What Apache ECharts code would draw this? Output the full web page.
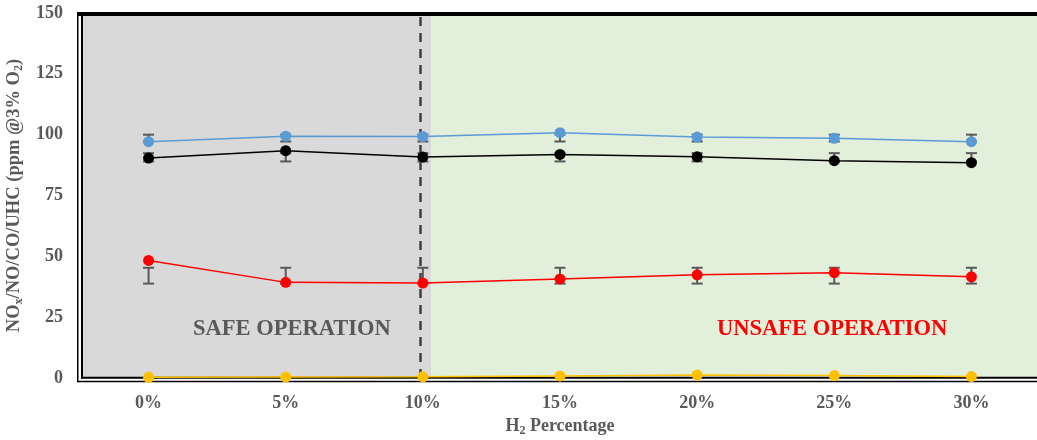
<!DOCTYPE html>
<html>
<head>
<meta charset="utf-8">
<script src="https://cdn.jsdelivr.net/npm/echarts@6/dist/echarts.min.js"></script>
<style>html,body{margin:0;padding:0;background:#fff}#c{width:1037px;height:440px}</style>
</head>
<body>
<div id="c"></div>
<script>
var categories = ['0%', '5%', '10%', '15%', '20%', '25%', '30%'];
var yTicks = [0, 25, 50, 75, 100, 125, 150];
var seriesNOx = [97.1, 99.4, 99.2, 100.8, 99.0, 98.5, 97.1];
var seriesNO  = [90.4, 93.4, 90.8, 91.9, 90.9, 89.3, 88.5];
var seriesCO  = [48.3, 39.3, 39.0, 40.7, 42.4, 43.3, 41.6];
var seriesUHC = [0.3, 0.4, 0.5, 0.8, 1.2, 1.0, 0.6];
var errNOxLow = [97.2, 97.2, 97.2, 97.2, 97.2, 97.2, 97.2];
var errNOxHigh = [100.0, 100.0, 100.0, 100.0, 100.0, 100.0, 100.0];
var errNOLow = [89.0, 89.0, 89.0, 89.0, 89.0, 89.0, 89.0];
var errNOHigh = [92.4, 92.4, 92.4, 92.4, 92.4, 92.4, 92.4];
var errCOLow = [38.8, 38.8, 38.8, 38.8, 38.8, 38.8, 38.8];
var errCOHigh = [45.3, 45.3, 45.3, 45.3, 45.3, 45.3, 45.3];
var safeLimitPos = 1.975;   // dashed boundary in category units
var safeAreaEnd = 2.06;

var FONT = '"Liberation Serif", "Times New Roman", serif';
var GREY = '#595959';

function errData(lo, hi) {
  return categories.map(function (c, i) { return [i, lo[i], hi[i]]; });
}
function errSeries(lo, hi) {
  return {
    type: 'custom',
    xAxisIndex: 0,
    z: 20,
    silent: true,
    renderItem: function (params, api) {
      var x = api.value(0);
      var p1 = api.coord([x, api.value(1)]);
      var p2 = api.coord([x, api.value(2)]);
      var w = 5.5;
      var st = { stroke: GREY, lineWidth: 2 };
      return {
        type: 'group',
        children: [
          { type: 'line', shape: { x1: p1[0], y1: p1[1], x2: p2[0], y2: p2[1] }, style: st },
          { type: 'line', shape: { x1: p1[0] - w, y1: p1[1], x2: p1[0] + w, y2: p1[1] }, style: st },
          { type: 'line', shape: { x1: p2[0] - w, y1: p2[1], x2: p2[0] + w, y2: p2[1] }, style: st }
        ]
      };
    },
    encode: { x: 0, y: [1, 2] },
    data: errData(lo, hi)
  };
}
function lineSeries(name, data, color) {
  return {
    name: name, type: 'line', data: data, z: 30,
    symbol: 'circle', symbolSize: 11,
    lineStyle: { color: color, width: 1.5 },
    itemStyle: { color: color },
    emphasis: { disabled: true }
  };
}

var chart = echarts.init(document.getElementById('c'));
chart.setOption({
  animation: false,
  grid: { left: 80, top: 13, width: 960, bottom: 62, show: false, containLabel: false, outerBoundsMode: 'none' },
  xAxis: [{
    type: 'category', data: categories, boundaryGap: true,
    axisLine: { show: false },
    axisTick: { show: false },
    axisLabel: { color: GREY, fontFamily: FONT, fontWeight: 'bold', fontSize: 18, margin: 16 },
    name: '{a|H}{s|2}{a| Percentage}', nameLocation: 'middle', nameGap: 38,
    nameTextStyle: { rich: {
      a: { color: GREY, fontFamily: FONT, fontWeight: 'bold', fontSize: 18 },
      s: { color: GREY, fontFamily: FONT, fontWeight: 'bold', fontSize: 12, verticalAlign: 'bottom', padding: [9, 0, 0, 0] }
    } }
  }, {
    type: 'value', min: -0.5, max: 6.5, show: false
  }],
  yAxis: {
    type: 'value', min: 0, max: 150, interval: 25,
    axisLine: { show: false },
    axisTick: { show: false },
    splitLine: { show: false },
    axisLabel: { color: GREY, fontFamily: FONT, fontWeight: 'bold', fontSize: 18, margin: 17,
      formatter: function (v) { return yTicks.indexOf(v) >= 0 ? String(v) : ''; } },
    name: '{a|NO}{s|x}{a|/NO/CO/UHC (ppm @3% O}{s|2}{a|)}', nameLocation: 'middle', nameGap: 49, nameRotate: 90,
    nameTextStyle: { rich: {
      a: { color: GREY, fontFamily: FONT, fontWeight: 'bold', fontSize: 18.5 },
      s: { color: GREY, fontFamily: FONT, fontWeight: 'bold', fontSize: 12, verticalAlign: 'bottom', padding: [9, 0, 0, 0] }
    } }
  },
  series: [
    {
      type: 'line', xAxisIndex: 1, data: [], z: 0, silent: true,
      markArea: {
        silent: true, z: 0,
        data: [
          [{ xAxis: -0.5, itemStyle: { color: '#D9D9D9' } }, { xAxis: safeAreaEnd }],
          [{ xAxis: safeAreaEnd, itemStyle: { color: '#E2EFDA' } }, { xAxis: 6.5 }]
        ]
      },
      markLine: {
        silent: true, symbol: 'none', label: { show: false }, z: 1,
        lineStyle: { color: '#404040', width: 2.5, type: [9, 7] },
        data: [{ xAxis: safeLimitPos }]
      }
    },
    errSeries(errNOxLow, errNOxHigh),
    errSeries(errNOLow, errNOHigh),
    errSeries(errCOLow, errCOHigh),
    lineSeries('NOx', seriesNOx, '#5B9BD5'),
    lineSeries('NO', seriesNO, '#000000'),
    lineSeries('CO', seriesCO, '#FF0000'),
    lineSeries('UHC', seriesUHC, '#FFC000')
  ],
  graphic: [
    { type: 'rect', z: 10, silent: true, shape: { x: 78, y: 12, width: 4, height: 370 }, style: { fill: '#ffffff' } },
    { type: 'rect', z: 10, silent: true, shape: { x: 78, y: 378.5, width: 960, height: 3 }, style: { fill: '#ffffff' } },
    { type: 'line', z: 10, silent: true, shape: { x1: 77.75, y1: 12, x2: 77.75, y2: 382.25 }, style: { stroke: '#000', lineWidth: 1.5 } },
    { type: 'line', z: 10, silent: true, shape: { x1: 77, y1: 381.5, x2: 1037, y2: 381.5 }, style: { stroke: '#000', lineWidth: 1.5 } },
    { type: 'line', z: 10, silent: true, shape: { x1: 82, y1: 14, x2: 82, y2: 378.8 }, style: { stroke: '#000', lineWidth: 2 } },
    { type: 'line', z: 10, silent: true, shape: { x1: 81, y1: 377.8, x2: 1037, y2: 377.8 }, style: { stroke: '#000', lineWidth: 2 } },
    { type: 'rect', z: 10, silent: true, shape: { x: 77, y: 12, width: 960, height: 4 }, style: { fill: '#000' } },
    { type: 'text', left: 193, top: 318, z: 40, style: { text: 'SAFE OPERATION', fill: GREY, font: 'bold 22.5px ' + FONT } },
    { type: 'text', left: 717, top: 318, z: 40, style: { text: 'UNSAFE OPERATION', fill: '#FF0000', font: 'bold 22.5px ' + FONT } }
  ]
});
</script>
</body>
</html>
